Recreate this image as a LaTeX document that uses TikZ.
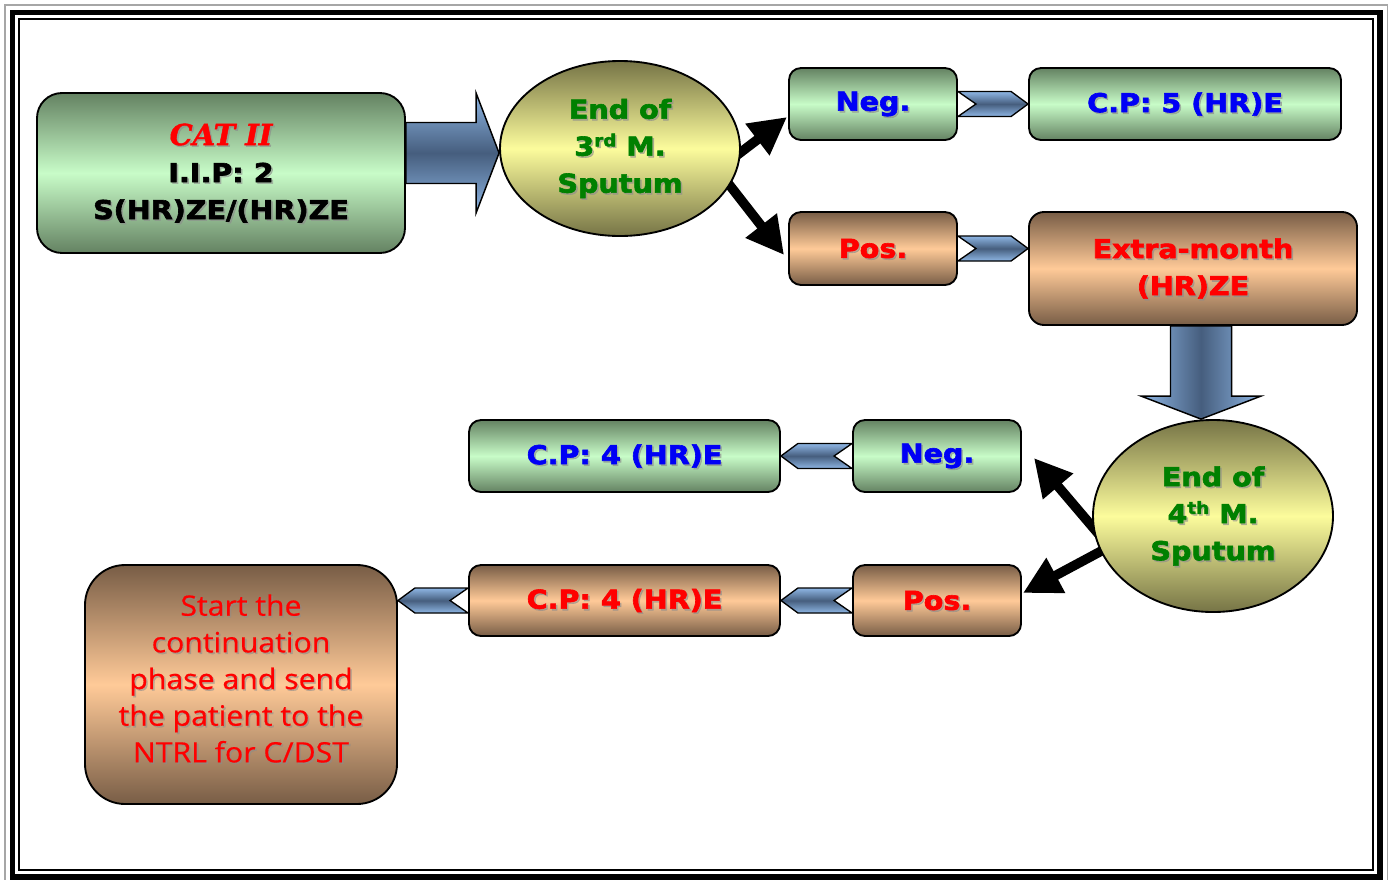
\documentclass[tikz,border=0pt]{standalone}
\usepackage{fontspec}
\usetikzlibrary{arrows.meta,calc,shapes.geometric}
\newfontfamily\bfnt[FakeStretch=1.1,FakeBold=2.4]{DejaVu Sans Bold}
\newfontfamily\rfnt[FakeStretch=1.08,FakeBold=0.5]{Open Sans}
\newfontfamily\cfnt[FakeBold=1.4]{DejaVu Serif Bold Italic}
\newlength\pix \setlength\pix{0.75pt}

\definecolor{gdark}{RGB}{100,130,98}
\definecolor{glight}{RGB}{200,252,200}
\definecolor{tdark}{RGB}{120,93,70}
\definecolor{tlight}{RGB}{255,202,152}
\definecolor{ydark}{RGB}{118,116,70}
\definecolor{ylight}{RGB}{252,252,156}
\definecolor{bdark}{RGB}{70,94,126}
\definecolor{blight}{RGB}{142,182,228}
\definecolor{txtred}{RGB}{255,0,0}
\definecolor{txtblue}{RGB}{0,0,245}
\definecolor{txtgreen}{RGB}{0,128,0}
\definecolor{shadowc}{RGB}{140,140,140}
\definecolor{hl}{RGB}{255,0,0}

\pgfdeclarelayer{background}
\pgfsetlayers{background,main}

% text with a soft grey drop shadow
\newcommand\shtext[4][]{%
  \node[lbl,#1,shadowtxt] (#2-sh) at ([shift={(1.6,1.6)}]#3) {#4};
  \node[lbl,#1] (#2) at (#3) {#4};}
\newcommand\sups[1]{\raisebox{0.36em}{\fontsize{12.5}{12}\selectfont #1}}
% chevron connectors pointing right / left
\newcommand\chevR[2]{\draw[chev] ($(#1)+(0,-12.5)$) -- ($(#2)+(-17,-12.5)$) -- (#2)
  -- ($(#2)+(-17,12.5)$) -- ($(#1)+(0,12.5)$) -- ($(#1)+(18,0)$) -- cycle;}
\newcommand\chevL[2]{\draw[chev] ($(#1)+(0,-12.5)$) -- ($(#2)+(17,-12.5)$) -- (#2)
  -- ($(#2)+(17,12.5)$) -- ($(#1)+(0,12.5)$) -- ($(#1)+(-18,0)$) -- cycle;}

\tikzset{
  box/.style={draw=black, line width=1.4pt, rectangle, inner sep=0pt},
  gbox/.style={box, rounded corners=12\pix, top color=gdark, bottom color=gdark, middle color=glight},
  tbox/.style={box, rounded corners=12\pix, top color=tdark, bottom color=tdark, middle color=tlight},
  yell/.style={ellipse, draw=black, line width=1.4pt, inner sep=0pt,
    top color=ydark, bottom color=ydark, middle color=ylight},
  lbl/.style={align=center, inner sep=0pt, font={\bfnt\fontsize{19.5}{27.75}\selectfont}},
  thin/.style={font={\rfnt\fontsize{21}{27.5}\selectfont}},
  shadowtxt/.style={text=shadowc, opacity=0.55, execute at begin node={\colorlet{hl}{shadowc}}},
  chev/.style={draw=black, line width=1pt, top color=blight, bottom color=blight, middle color=bdark},
  barrowV/.style={draw=black, line width=1.1pt, top color=blight, bottom color=blight, middle color=bdark},
  barrowH/.style={draw=black, line width=1.1pt, left color=blight, right color=blight, middle color=bdark},
  blk/.style={draw=black, line width=7.2pt, -{Triangle[length=28pt,width=28pt]}},
}

\begin{document}
\begin{tikzpicture}[x=0.75pt, y=-0.75pt]
\useasboundingbox (0,0) rectangle (1395,879);
\begin{pgfonlayer}{background}
\fill[white] (0,0) rectangle (1395,879);
\end{pgfonlayer}

% triple frame
\draw[gray!70, line width=1.2pt] (5,5) rectangle (1387.5,886);
\draw[black, line width=4.2pt] (12.3,12.3) rectangle (1380,877);
\draw[black, line width=1.6pt] (19.2,19.2) rectangle (1373,870);

% boxes and ellipses
\node[gbox, rounded corners=25\pix, minimum width=368\pix, minimum height=160\pix] (cat) at (221,173) {};
\node[yell, minimum width=240\pix, minimum height=175\pix] (e1) at (620,148.5) {};
\node[gbox, minimum width=168\pix, minimum height=72\pix] (neg1) at (873,104) {};
\node[gbox, minimum width=312\pix, minimum height=72\pix] (cp5) at (1185,104) {};
\node[tbox, minimum width=168\pix, minimum height=73\pix] (pos1) at (873,248.5) {};
\node[tbox, rounded corners=15\pix, minimum width=328\pix, minimum height=113\pix] (extra) at (1193,268.5) {};
\node[yell, minimum width=240\pix, minimum height=192\pix] (e2) at (1213,516) {};
\node[gbox, minimum width=168\pix, minimum height=72\pix] (neg2) at (937,456) {};
\node[gbox, minimum width=311\pix, minimum height=72\pix] (cp4g) at (624.5,456) {};
\node[tbox, minimum width=168\pix, minimum height=71\pix] (pos2) at (937,600.5) {};
\node[tbox, minimum width=311\pix, minimum height=71\pix] (cp4t) at (624.5,600.5) {};
\node[tbox, rounded corners=40\pix, minimum width=312\pix, minimum height=239\pix] (final) at (241,684.5) {};

% labels
\shtext[text=black]{cat-t}{cat.center}{\textcolor{hl}{\cfnt\fontsize{21.75}{27.75}\selectfont CAT II}\\I.I.P: 2\\S(HR)ZE/(HR)ZE}
\shtext[text=txtgreen]{e1-t}{e1.center}{End of\\3\sups{rd} M.\\Sputum}
\shtext[text=txtblue]{neg1-t}{neg1.center}{Neg.}
\shtext[text=txtblue]{cp5-t}{cp5.center}{C.P: 5 (HR)E}
\shtext[text=txtred]{pos1-t}{pos1.center}{Pos.}
\shtext[text=txtred]{extra-t}{extra.center}{Extra-month\\(HR)ZE}
\shtext[text=txtgreen]{e2-t}{e2.center}{End of\\4\sups{th} M.\\Sputum}
\shtext[text=txtblue]{neg2-t}{neg2.center}{Neg.}
\shtext[text=txtblue]{cp4g-t}{cp4g.center}{C.P: 4 (HR)E}
\shtext[text=txtred]{pos2-t}{pos2.center}{Pos.}
\shtext[text=txtred]{cp4t-t}{cp4t.center}{C.P: 4 (HR)E}
\shtext[text=txtred, thin]{final-t}{$(final.center)+(0,-6)$}{Start the\\continuation\\phase and send\\the patient to the\\NTRL for C/DST}

% broad block arrows
\coordinate (bigtip) at ($(e1.west)+(0,4.5)$);
\coordinate (bigtail) at (cat.east |- bigtip);
\draw[barrowV] ($(bigtail)+(0,-30.5)$) -- ($(bigtip)+(-23,-30.5)$) -- ($(bigtip)+(-23,-60)$)
  -- (bigtip) -- ($(bigtip)+(-23,60)$) -- ($(bigtip)+(-23,30.5)$) -- ($(bigtail)+(0,30.5)$) -- cycle;
\coordinate (dtail) at ($(extra.south)+(8,0)$);
\coordinate (dtip) at (dtail |- e2.north);
\draw[barrowH] ($(dtail)+(-30.5,0)$) -- ($(dtip)+(-30.5,-23)$) -- ($(dtip)+(-60,-23)$)
  -- (dtip) -- ($(dtip)+(60,-23)$) -- ($(dtip)+(30.5,-23)$) -- ($(dtail)+(30.5,0)$) -- cycle;

% chevrons
\chevR{neg1.east}{cp5.west}
\coordinate (c2tip) at (extra.west |- pos1.east);
\chevR{pos1.east}{c2tip}
\chevL{neg2.west}{cp4g.east}
\chevL{pos2.west}{cp4t.east}
\coordinate (c5tip) at (final.east |- cp4t.west);
\chevL{cp4t.west}{c5tip}

% black decision arrows, tucked under the ellipses
\begin{pgfonlayer}{background}
\draw[blk] ($(e1.center)+(110.4,11.7)$) -- ($(neg1.west)+(-1,13)$);
\draw[blk] ($(e1.center)+(100.6,25.1)$) -- ($(pos1.west)+(-4,6.5)$);
\draw[blk] ($(e2.center)+(-110.2,23)$) -- ($(neg2.east)+(12,2)$);
\draw[blk] ($(e2.center)+(-99.4,28.4)$) -- ($(pos2.east)+(1,-7.5)$);
\end{pgfonlayer}
\end{tikzpicture}
\end{document}
